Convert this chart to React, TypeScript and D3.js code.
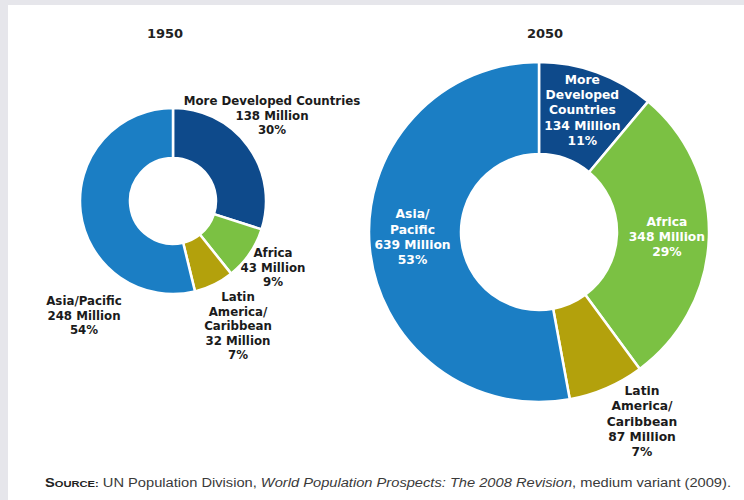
import React from "react";
import * as d3 from "d3";

// ---- data ----
const years = ["1950", "2050"];
const regions = ["More Developed Countries", "Africa", "Latin America/Caribbean", "Asia/Pacific"];
const pop1950 = [138, 43, 32, 248];
const pop2050 = [134, 348, 87, 639];
const pct1950 = [30, 9, 7, 54];
const pct2050 = [11, 29, 7, 53];
const names1950 = [["More Developed Countries"], ["Africa"], ["Latin", "America/", "Caribbean"], ["Asia/Pacific"]];
const names2050 = [["More", "Developed", "Countries"], ["Africa"], ["Latin", "America/", "Caribbean"], ["Asia/", "Pacific"]];

// ---- styles / layout ----
const W = 744;
const H = 500;
const colors = ["#0e4a8b", "#7bc143", "#b3a10c", "#1b7ec4"];
const FONT = "'DejaVu Sans', 'Open Sans', sans-serif";

type Label = { x?: number; y?: number; dx?: number; dy?: number; inside: boolean; fill: string };

const charts = [
  {
    year: years[0],
    values: pop1950,
    pcts: pct1950,
    names: names1950,
    cx: 173,
    cy: 201,
    r: 93,
    ri: 43,
    titleX: 165,
    fontSize: 11.8,
    lineH: 14.5,
    labels: [
      { x: 272, y: 101, inside: false, fill: "#1b1b1b" },
      { x: 273, y: 253, inside: false, fill: "#1b1b1b" },
      { x: 238, y: 297, inside: false, fill: "#1b1b1b" },
      { x: 84, y: 301, inside: false, fill: "#1b1b1b" },
    ] as Label[],
  },
  {
    year: years[1],
    values: pop2050,
    pcts: pct2050,
    names: names2050,
    cx: 539,
    cy: 232,
    r: 170,
    ri: 78,
    titleX: 545,
    fontSize: 12.3,
    lineH: 15.3,
    labels: [
      { dx: 1, dy: -5, inside: true, fill: "#ffffff" },
      { dx: 4, dy: 1, inside: true, fill: "#ffffff" },
      { x: 642, y: 391, inside: false, fill: "#1b1b1b" },
      { dx: -3, dy: -6, inside: true, fill: "#ffffff" },
    ] as Label[],
  },
];

function Donut({ c }: { c: (typeof charts)[number] }) {
  const pie = d3.pie<number>().sort(null).value((d) => d);
  const arcs = pie(c.values);
  const arc = d3.arc<d3.PieArcDatum<number>>().innerRadius(c.ri).outerRadius(c.r);
  const mid = d3.arc<d3.PieArcDatum<number>>().innerRadius((c.r + c.ri) / 2).outerRadius((c.r + c.ri) / 2);
  return (
    <g>
      <text
        x={c.titleX}
        y={38}
        textAnchor="middle"
        fontFamily={FONT}
        fontWeight={700}
        fontSize={13}
        fill="#222"
      >
        {c.year}
      </text>
      <g transform={`translate(${c.cx},${c.cy})`}>
        {arcs.map((a, i) => (
          <path key={regions[i]} d={arc(a) || ""} fill={colors[i]} stroke="#fff" strokeWidth={2.5} strokeLinejoin="round" />
        ))}
      </g>
      {arcs.map((a, i) => {
        const lab = c.labels[i];
        const lines = [...c.names[i], `${c.values[i]} Million`, `${c.pcts[i]}%`];
        let x: number;
        let y0: number;
        if (lab.inside) {
          const [mx, my] = mid.centroid(a);
          x = c.cx + mx + (lab.dx || 0);
          y0 = c.cy + my + (lab.dy || 0) - ((lines.length - 1) * c.lineH) / 2;
        } else {
          x = lab.x as number;
          y0 = lab.y as number;
        }
        return (
          <g key={"l" + i}>
            {lines.map((t, j) => (
              <text
                key={j}
                x={x}
                y={y0 + j * c.lineH}
                textAnchor="middle"
                fontFamily={FONT}
                fontWeight={700}
                fontSize={c.fontSize}
                fill={lab.fill}
                dominantBaseline="central"
              >
                {t}
              </text>
            ))}
          </g>
        );
      })}
    </g>
  );
}

export default function App() {
  return (
    <svg
      width={W}
      height={H}
      style={{ position: "absolute", left: 0, top: 0, display: "block" }}
      xmlns="http://www.w3.org/2000/svg"
    >
      <rect x={0} y={0} width={W} height={H} fill="#e6e6eb" />
      <rect x={8} y={5} width={W - 8} height={H - 5} fill="#ffffff" />
      {charts.map((c) => (
        <Donut key={c.year} c={c} />
      ))}
      <text
        x={45}
        y={487}
        fontFamily="'Liberation Sans', Arial, sans-serif"
        fontSize={12.5}
        fill="#3a3a3a"
        textLength={686}
        lengthAdjust="spacingAndGlyphs"
      >
        <tspan fontWeight={700} fill="#222" fontSize={12.5}>S</tspan>
        <tspan fontWeight={700} fill="#222" fontSize={9.5}>OURCE:</tspan>
        <tspan> UN Population Division, </tspan>
        <tspan fontStyle="italic">World Population Prospects: The 2008 Revision</tspan>
        <tspan>, medium variant (2009).</tspan>
      </text>
    </svg>
  );
}
